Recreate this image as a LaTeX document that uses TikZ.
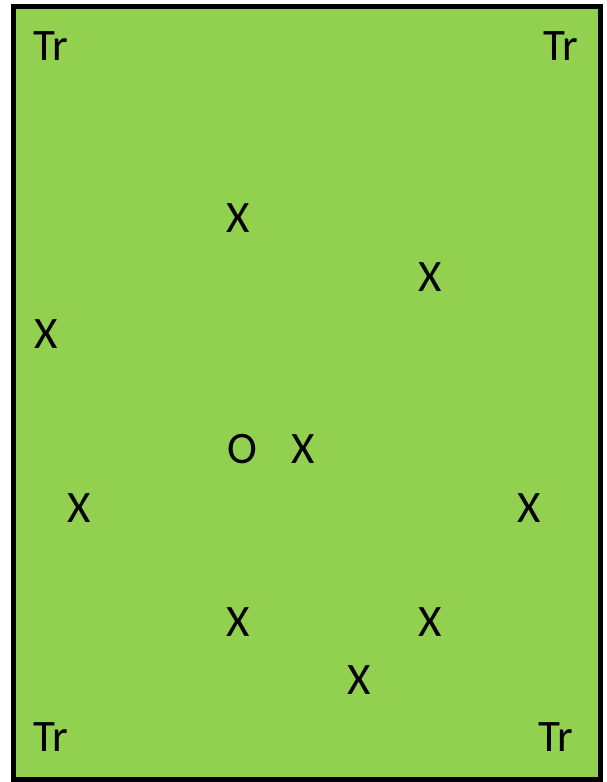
\documentclass[tikz,border=0pt]{standalone}
\usepackage{fontspec}
\setmainfont{Carlito}
\definecolor{field}{HTML}{92D050}
\begin{document}
\begin{tikzpicture}[x=1pt,y=-1pt,
  lbl/.style={font=\fontsize{45}{52}\selectfont, anchor=base, inner sep=0pt},
  lblw/.style={font=\fontsize{45}{52}\selectfont, anchor=base west, inner sep=0pt}]
\useasboundingbox (0,0) rectangle (607,782);
\draw[line width=5pt, fill=field] (13.5,6) rectangle (600,779);
\node[lblw] (tl) at (33,60) {Tr};
\node[lblw] (tr) at (543,60) {Tr};
\node[lblw] (bl) at (33,751) {Tr};
\node[lblw] (br) at (538,751) {Tr};
\node[lbl] (x1) at (238,232) {X};
\node[lbl] (x2) at (430,291) {X};
\node[lbl] (x3) at (46,348) {X};
\node[lbl] (o) at (242,463) {O};
\node[lbl] (x4) at (303,463) {X};
\node[lbl] (x5) at (79,522) {X};
\node[lbl] (x6) at (529,522) {X};
\node[lbl] (x7) at (238,636) {X};
\node[lbl] (x8) at (430,636) {X};
\node[lbl] (x9) at (359,694) {X};
\end{tikzpicture}
\end{document}
